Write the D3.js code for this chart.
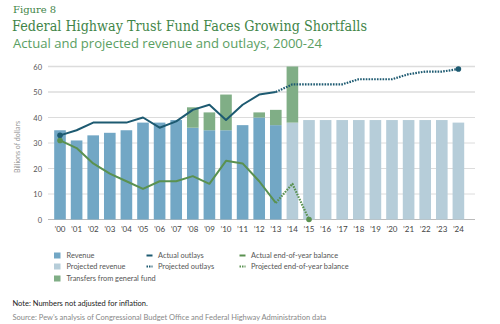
<!DOCTYPE html>
<html>
<head>
<meta charset="utf-8">
<script src="https://cdn.jsdelivr.net/npm/d3@7"></script>
<style>
  body { margin: 0; background: #fff; }
  text { font-family: Lato, "Open Sans", "DejaVu Sans", sans-serif; }
</style>
</head>
<body>
<svg id="chart" width="500" height="324"></svg>
<script>
const years = ['00','01','02','03','04','05','06','07','08','09','10','11','12','13',
  '14','15','16','17','18','19','20','21','22','23','24'];

// Revenue: actual through '13, projected from '14
const revenue = [35, 31, 33, 34, 35, 38, 38, 39, 36, 35, 35, 37, 40, 37];
const projRevenue = [38, 39, 39, 39, 39, 39, 39, 39, 39, 39, 38];
// Transfers from general fund, keyed by year
const transferYears = ['08', '09', '10', '12', '13', '14'];
const transfers = [8, 7, 14, 2, 6, 22];

const outlays = [33, 35, 38, 38, 38, 40, 36, 38.5, 43, 45, 39, 45, 49, 50];
const projOutlays = [50, 53, 53, 53, 53, 55, 55, 55, 57, 58, 58, 59]; // '13 → '24
const balance = [31, 28, 22, 18, 15, 12, 15, 15, 17, 14, 23, 22, 15, 6.5];
const projBalance = [6.5, 14, 0]; // '13 → '15

const yTicks = [0, 10, 20, 30, 40, 50, 60];

const c = {
  revenue: '#72a7c5',
  projRevenue: '#b6cdd9',
  transfer: '#80ae86',
  outlay: '#1d5a71',
  balance: '#5a9150',
  grid: '#dcdcdc',
  title: '#3f8548',
  subtitle: '#5a9e62'
};

const svg = d3.select('#chart');

const x = d3.scaleBand()
  .domain(years)
  .range([51.7, 466.7])
  .paddingInner(0.3)
  .paddingOuter(0.15);

const y = d3.scaleLinear().domain([0, 60]).range([219.5, 66.5]);
const cx = d => x(d) + x.bandwidth() / 2;

// Titles
svg.append('text').attr('x', 13).attr('y', 13)
  .style('font-family', '"DejaVu Serif", serif').style('font-size', '10px')
  .attr('fill', c.title).text('Figure 8');
svg.append('text').attr('x', 12).attr('y', 31)
  .style('font-family', '"DejaVu Serif", serif').style('font-size', '15px')
  .attr('fill', c.title).attr('textLength', 355).attr('lengthAdjust', 'spacingAndGlyphs')
  .text('Federal Highway Trust Fund Faces Growing Shortfalls');
svg.append('text').attr('x', 13).attr('y', 48)
  .style('font-family', '"Open Sans", sans-serif').style('font-size', '13.5px')
  .attr('fill', c.subtitle).attr('textLength', 309).attr('lengthAdjust', 'spacingAndGlyphs')
  .text('Actual and projected revenue and outlays, 2000-24');

// Grid + y axis labels
svg.append('g').selectAll('line')
  .data(yTicks)
  .join('line')
  .attr('x1', 48).attr('x2', 475)
  .attr('y1', d => y(d)).attr('y2', d => y(d))
  .attr('stroke', d => d === 0 ? '#bbb' : c.grid)
  .attr('stroke-width', d => d >= 50 ? 1.5 : 1);

svg.append('g').selectAll('text')
  .data(yTicks)
  .join('text')
  .attr('x', 42).attr('y', d => y(d) + 3)
  .attr('text-anchor', 'end')
  .style('font-size', '7.5px').attr('fill', '#555')
  .text(d => d);

svg.append('text')
  .attr('transform', 'translate(20,147) rotate(-90)')
  .attr('text-anchor', 'middle')
  .style('font-size', '7px').attr('fill', '#999')
  .text('Billions of dollars');

// X tick labels
svg.append('g').selectAll('text')
  .data(years)
  .join('text')
  .attr('x', d => cx(d)).attr('y', 232)
  .attr('text-anchor', 'middle')
  .style('font-size', '8px').attr('fill', '#444')
  .text(d => '\u2019' + d);

// Bars
const actualYears = years.slice(0, revenue.length);
const projYears = years.slice(revenue.length);

svg.append('g').selectAll('rect')
  .data(revenue)
  .join('rect')
  .attr('x', (d, i) => x(actualYears[i]))
  .attr('width', x.bandwidth())
  .attr('y', d => y(d))
  .attr('height', d => y(0) - y(d))
  .attr('fill', c.revenue);

svg.append('g').selectAll('rect')
  .data(projRevenue)
  .join('rect')
  .attr('x', (d, i) => x(projYears[i]))
  .attr('width', x.bandwidth())
  .attr('y', d => y(d))
  .attr('height', d => y(0) - y(d))
  .attr('fill', c.projRevenue);

const revenueOf = yr => {
  const i = years.indexOf(yr);
  return i < revenue.length ? revenue[i] : projRevenue[i - revenue.length];
};

svg.append('g').selectAll('rect')
  .data(transfers)
  .join('rect')
  .attr('x', (d, i) => x(transferYears[i]))
  .attr('width', x.bandwidth())
  .attr('y', (d, i) => y(revenueOf(transferYears[i]) + d))
  .attr('height', (d, i) => y(revenueOf(transferYears[i])) - y(revenueOf(transferYears[i]) + d))
  .attr('fill', c.transfer);

// Lines
const line = d3.line().x(d => cx(d[0])).y(d => y(d[1]));
const pairs = (vals, start) => vals.map((v, i) => [years[start + i], v]);

const drawLine = (data, color, dashed) => {
  svg.append('path')
    .datum(data)
    .attr('d', line)
    .attr('fill', 'none')
    .attr('stroke', color)
    .attr('stroke-width', dashed ? 2.2 : 2)
    .attr('stroke-dasharray', dashed ? '1.6,1.2' : null)
    .attr('stroke-linejoin', 'round');
};

drawLine(pairs(outlays, 0), c.outlay, false);
drawLine(pairs(projOutlays, 13), c.outlay, true);
drawLine(pairs(balance, 0), c.balance, false);
drawLine(pairs(projBalance, 13), c.balance, true);

const dots = [
  [years[0], outlays[0], c.outlay],
  [years[24], projOutlays[projOutlays.length - 1], c.outlay],
  [years[0], balance[0], c.balance],
  [years[15], projBalance[projBalance.length - 1], c.balance]
];
svg.append('g').selectAll('circle')
  .data(dots)
  .join('circle')
  .attr('cx', d => cx(d[0])).attr('cy', d => y(d[1]))
  .attr('r', 2.8)
  .attr('fill', d => d[2]);

// Legend
const legend = svg.append('g').style('font-size', '7.4px');
const swatches = [
  ['Revenue', c.revenue, 54, 255.5],
  ['Projected revenue', c.projRevenue, 54, 266.5],
  ['Transfers from general fund', c.transfer, 54, 278.5]
];
swatches.forEach(s => {
  legend.append('rect').attr('x', s[2]).attr('y', s[3] - 3).attr('width', 6.5).attr('height', 6).attr('fill', s[1]);
  legend.append('text').attr('x', s[2] + 12.5).attr('y', s[3] + 2.6).attr('fill', '#555').text(s[0]);
});
const lineKeys = [
  ['Actual outlays', c.outlay, false, 146.5, 255.5],
  ['Projected outlays', c.outlay, true, 146.5, 266.5],
  ['Actual end-of-year balance', c.balance, false, 239.5, 255.5],
  ['Projected end-of-year balance', c.balance, true, 239.5, 266.5]
];
lineKeys.forEach(k => {
  legend.append('line')
    .attr('x1', k[3]).attr('x2', k[3] + 6).attr('y1', k[4]).attr('y2', k[4])
    .attr('stroke', k[1]).attr('stroke-width', 2)
    .attr('stroke-dasharray', k[2] ? '1.5,1' : null);
  legend.append('text').attr('x', k[3] + 11.5).attr('y', k[4] + 2.6).attr('fill', '#555').text(k[0]);
});

// Notes
svg.append('text').attr('x', 12.5).attr('y', 306)
  .style('font-size', '7.5px').attr('fill', '#222')
  .text('Note: Numbers not adjusted for inflation.');
svg.append('text').attr('x', 12.5).attr('y', 319.5)
  .style('font-size', '7.5px').attr('fill', '#888')
  .text('Source: Pew\u2019s analysis of Congressional Budget Office and Federal Highway Administration data');
</script>
</body>
</html>
